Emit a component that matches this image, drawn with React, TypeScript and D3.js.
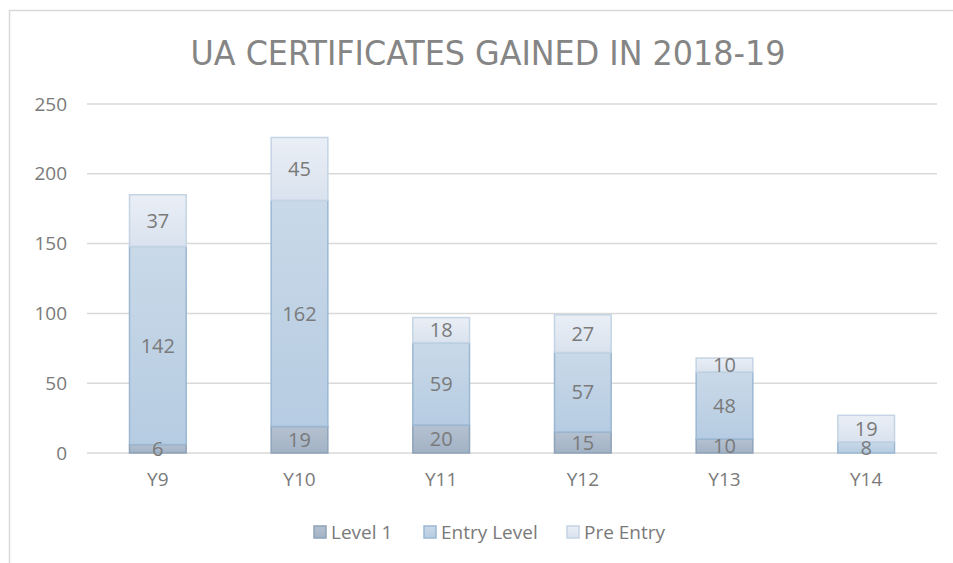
import React from "react";
import * as d3 from "d3";

const categories = ["Y9", "Y10", "Y11", "Y12", "Y13", "Y14"];
const seriesNames = ["Level 1", "Entry Level", "Pre Entry"];
const level1 = [6, 19, 20, 15, 10, 0];
const entryLevel = [142, 162, 59, 57, 48, 8];
const preEntry = [37, 45, 18, 27, 10, 19];
const yTicks = [0, 50, 100, 150, 200, 250];
const title = "UA CERTIFICATES GAINED IN 2018-19";

const W = 953;
const H = 563;
const FONT = "'Open Sans', 'DejaVu Sans', sans-serif";
const TITLE_FONT = "'Liberation Sans Narrow', 'DejaVu Sans Condensed', 'Open Sans', sans-serif";
const TEXT = "#7a7a7a";

const styles = [
  { top: "#b4c1d0", bottom: "#a2b2c5", stroke: "#8ea3b9" },
  { top: "#c9d9e8", bottom: "#b6cce2", stroke: "#9bb8d3" },
  { top: "#eaeff6", bottom: "#d9e2ee", stroke: "#c4d4e4" },
];

export default function App() {
  const x = d3.scaleBand<string>().domain(categories).range([87, 937]).paddingInner(0.6).paddingOuter(0.3);
  const y = d3.scaleLinear().domain([0, 250]).range([453, 104]);

  const rows = categories.map((c, i) => ({ cat: c, v0: level1[i], v1: entryLevel[i], v2: preEntry[i] }));
  const stack = d3.stack<any>().keys(["v0", "v1", "v2"])(rows);

  const legendX = [314, 424, 567];

  return (
    <svg width={W} height={H} style={{ position: "absolute", left: 0, top: 0, background: "#fff" }}>
      <defs>
        {styles.map((s, i) => (
          <linearGradient key={i} id={`g${i}`} x1="0" y1="0" x2="0" y2="1">
            <stop offset="0" stopColor={s.top} />
            <stop offset="1" stopColor={s.bottom} />
          </linearGradient>
        ))}
      </defs>
      <rect x={9.5} y={10.5} width={W + 20} height={H + 20} fill="#fff" stroke="#d9d9d9" strokeWidth={1.5} />
      <text x={488} y={65} textAnchor="middle" fontFamily={TITLE_FONT} fontSize={34} fill="#858585" textLength={595} lengthAdjust="spacingAndGlyphs">
        {title}
      </text>
      {yTicks.map((t) => (
        <g key={t}>
          <line x1={87} x2={937} y1={y(t)} y2={y(t)} stroke="#d9d9d9" strokeWidth={1.5} />
          <text x={67} y={y(t)} dy="0.35em" textAnchor="end" fontFamily={FONT} fontSize={19} fill={TEXT}>
            {t}
          </text>
        </g>
      ))}
      {stack.map((layer, si) => (
        <g key={si}>
          {layer.map((d, i) => {
            const v = d[1] - d[0];
            if (v <= 0) return null;
            const bx = x(categories[i])!;
            const bw = x.bandwidth();
            return (
              <rect key={i} x={bx} y={y(d[1])} width={bw} height={y(d[0]) - y(d[1])} fill={`url(#g${si})`} stroke={styles[si].stroke} strokeWidth={1.5} />
            );
          })}
        </g>
      ))}
      {stack.map((layer, si) => (
        <g key={"l" + si}>
          {layer.map((d, i) => {
            const v = d[1] - d[0];
            if (v <= 0) return null;
            const bx = x(categories[i])!;
            const bw = x.bandwidth();
            return (
              <text key={i} x={bx + bw / 2} y={(y(d[0]) + y(d[1])) / 2} dy="0.36em" textAnchor="middle" fontFamily={FONT} fontSize={20} fill={TEXT}>
                {v}
              </text>
            );
          })}
        </g>
      ))}
      {categories.map((c) => (
        <text key={c} x={x(c)! + x.bandwidth() / 2} y={486} textAnchor="middle" fontFamily={FONT} fontSize={19} fill={TEXT}>
          {c}
        </text>
      ))}
      {seriesNames.map((n, i) => (
        <g key={n}>
          <rect x={legendX[i]} y={526} width={12} height={12} fill={`url(#g${i})`} stroke={styles[i].stroke} strokeWidth={1.5} />
          <text x={legendX[i] + 17} y={532} dy="0.35em" fontFamily={FONT} fontSize={19} fill={TEXT}>
            {n}
          </text>
        </g>
      ))}
    </svg>
  );
}
